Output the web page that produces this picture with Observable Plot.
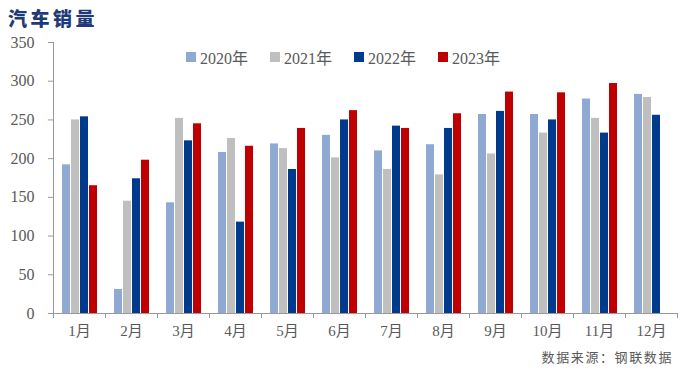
<!DOCTYPE html>
<html>
<head>
<meta charset="utf-8">
<script src="https://cdn.jsdelivr.net/npm/d3@7"></script>
<script src="https://cdn.jsdelivr.net/npm/@observablehq/plot@0.6"></script>
<style>
  html, body { margin: 0; padding: 0; background: #fff; }
  #wrap { position: relative; width: 681px; height: 373px; overflow: hidden; }
  #title { position: absolute; left: 8px; top: 4px; font-family: "Noto Sans CJK SC", sans-serif; font-weight: 900; font-size: 19px; letter-spacing: 3.5px; color: #1f3a78; }
  #legend { position: absolute; left: 186px; top: 45px; display: flex; font-family: "Liberation Serif", "Times New Roman", "DejaVu Serif", "Noto Sans CJK SC", serif; font-size: 16px; color: #595959; }
  #legend .item { display: flex; align-items: center; margin-right: 22px; }
  #legend .sw { width: 10px; height: 10px; margin-right: 4px; }
  #caption { position: absolute; right: 8px; top: 347px; font-family: "Noto Sans CJK SC", sans-serif; font-size: 13px; letter-spacing: 1.6px; color: #595959; }
  #chart { position: absolute; left: 0; top: 0; }
  #chart svg text { font-family: "Liberation Serif", "Times New Roman", "DejaVu Serif", "Noto Sans CJK SC", serif; }
</style>
</head>
<body>
<div id="wrap">
  <div id="chart"></div>
  <div id="title">汽车销量</div>
  <div id="legend"></div>
  <div id="caption">数据来源：钢联数据</div>
</div>
<script>
const months = ["1月","2月","3月","4月","5月","6月","7月","8月","9月","10月","11月","12月"];
const years = ["2020年","2021年","2022年","2023年"];
const colors = ["#8eaad2","#bfbfbf","#003a8c","#c00000"];
const yTicks = [0,50,100,150,200,250,300,350];
const v2020 = [192, 31, 143, 208, 219, 230, 210, 218, 257, 257, 277, 283];
const v2021 = [250, 145, 252, 226, 213, 201, 186, 179, 206, 233, 252, 279];
const v2022 = [254, 174, 223, 118, 186, 250, 242, 239, 261, 250, 233, 256];
const v2023 = [165, 198, 245, 216, 239, 262, 239, 258, 286, 285, 297, null];
const series = [v2020, v2021, v2022, v2023];

const data = months.flatMap((m, i) => years.map((y, j) => ({month: m, year: y, value: series[j][i]})))
  .filter(d => d.value != null);

const axisColor = "#999999";
const serif = "Liberation Serif, Times New Roman, DejaVu Serif, Noto Sans CJK SC, serif";

const plot = Plot.plot({
  width: 681,
  height: 373,
  marginTop: 42,
  marginBottom: 60,
  marginLeft: 53,
  marginRight: 4,
  style: {fontFamily: serif, color: "#595959", background: "transparent"},
  fx: {domain: months, padding: 0, label: null, axis: null},
  x: {domain: years, paddingInner: 0.143, paddingOuter: 0.857, axis: null},
  y: {domain: [0, 350], label: null, axis: null},
  color: {domain: years, range: colors},
  marks: [
    Plot.barY(data, {fx: "month", x: "year", y: "value", fill: "year"}),
    Plot.ruleY([0], {stroke: axisColor}),
    Plot.axisY({ticks: yTicks, tickSize: 5, tickPadding: 14, fontSize: 16, fontFamily: serif, label: null, stroke: axisColor}),
    Plot.axisFx({anchor: "bottom", tickSize: 0, tickPadding: 12, fontSize: 15, fontFamily: serif, label: null})
  ]
});
document.getElementById("chart").appendChild(plot);

// axis lines and group boundary ticks, from the plot's own scales
const fx = plot.scale("fx");
const ys = plot.scale("y");
const y0 = ys.apply(0), yTop = ys.apply(350);
const svg = d3.select(plot.tagName.toLowerCase() === "svg" ? plot : plot.querySelector("svg"));
const g = svg.append("g").attr("stroke", axisColor).attr("stroke-width", 1);
const x0 = fx.range[0];
g.append("line").attr("x1", x0 + 0.5).attr("x2", x0 + 0.5).attr("y1", yTop).attr("y2", y0);
const bounds = months.map(m => fx.apply(m)).concat([fx.apply(months[months.length - 1]) + fx.bandwidth]);
bounds.forEach(b => {
  g.append("line").attr("x1", b + 0.5).attr("x2", b + 0.5).attr("y1", y0).attr("y2", y0 + 5);
});

// legend
const legend = d3.select("#legend");
years.forEach((y, i) => {
  const it = legend.append("div").attr("class", "item");
  it.append("div").attr("class", "sw").style("background", colors[i]);
  it.append("span").text(y);
});
</script>
</body>
</html>
